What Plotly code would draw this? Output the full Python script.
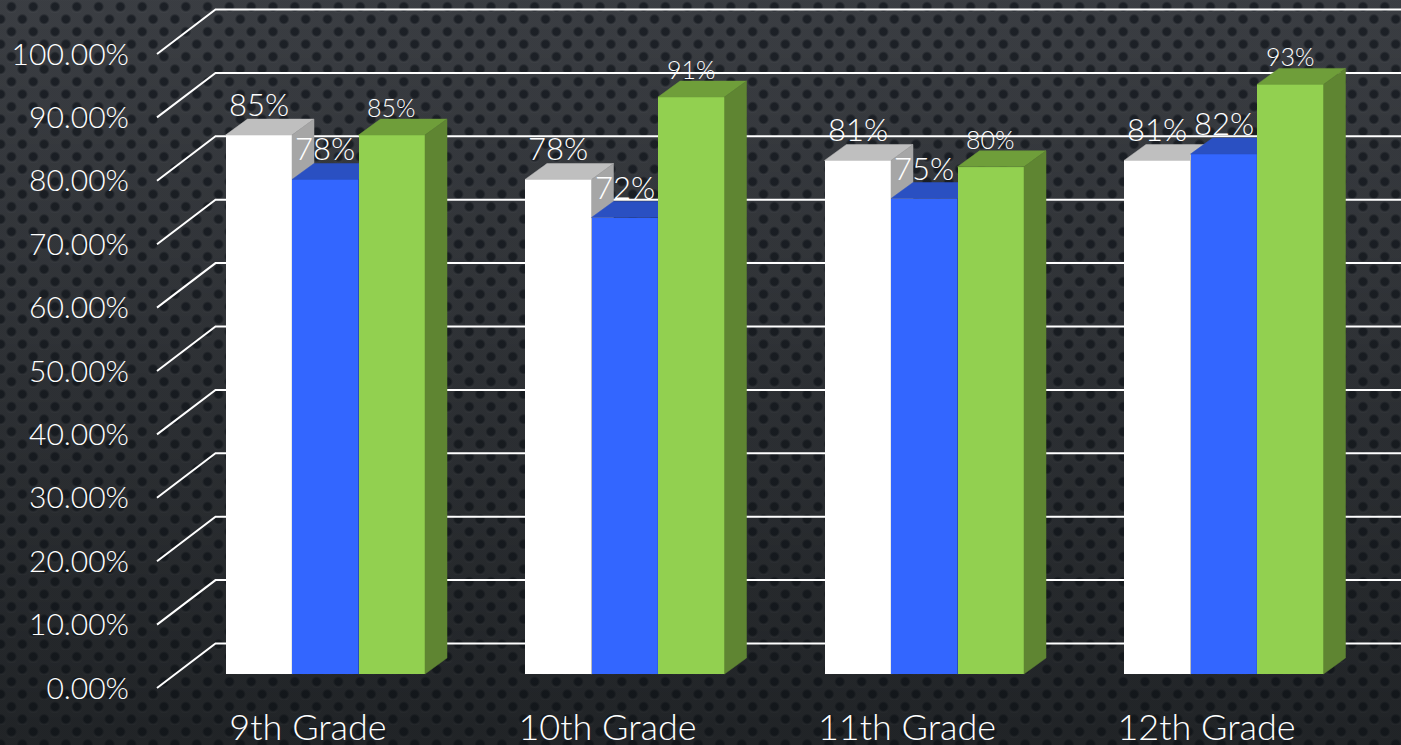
import base64, struct, zlib
import numpy as np
import plotly.graph_objects as go

grades = ["9th Grade", "10th Grade", "11th Grade", "12th Grade"]
series_a = [85, 78, 81, 81]
series_b = [78, 72, 75, 82]
series_c = [85, 91, 80, 93]
axis_ticks = [0, 10, 20, 30, 40, 50, 60, 70, 80, 90, 100]
axis_labels = ["0.00%", "10.00%", "20.00%", "30.00%", "40.00%", "50.00%",
               "60.00%", "70.00%", "80.00%", "90.00%", "100.00%"]

W, H = 1401, 745
FONT = "Lato, 'Open Sans', sans-serif"

# ---- scale of the picture ----
PX_X = 299.5           # px per category
PX_Y = 6.34            # px per percentage point
CX0 = 325.25           # px of the first category centre
BAR = 66.5 / PX_X
DX, DY = 22 / PX_X, 16 / PX_Y          # bar depth
WALL_DX, WALL_DY = 58.5 / PX_X, 44.5 / PX_Y  # wall depth
x_range = [-CX0 / PX_X, (W - CX0) / PX_X]


def y_range(zero_px):
    return [-(H - zero_px) / PX_Y, zero_px / PX_Y]


def xu(px):
    return (px - CX0) / PX_X


# ---- background texture ----
def png_uri():
    yy, xx = np.mgrid[0:H, 0:W].astype(float)
    t = yy / H
    base = np.stack([58 - 26 * t, 61 - 26 * t, 66 - 28 * t], axis=-1)
    px, py = 21.8, 25.0
    row = np.floor(yy / (py / 2))
    xs = xx + (row % 2) * px / 2
    dx = (xs % px) - px / 2
    dy = (yy % (py / 2)) - py / 4
    d = np.hypot(dx, dy)
    dot = np.clip((5.6 - d) / 2.2, 0, 1)[..., None]
    hi = np.clip((5.5 - np.hypot(dx, dy - 3.0)) / 3, 0, 1)[..., None] * (1 - dot)
    dotc = np.stack([28 - 10 * t, 32 - 10 * t, 38 - 12 * t], axis=-1)
    img = base * (1 - dot) + dotc * dot + 5 * hi
    weave = (((xx.astype(int) + yy.astype(int)) % 2) * 2.0)[..., None]
    img = np.clip(img + weave, 0, 255).astype(np.uint8)
    raw = b"".join(b"\x00" + img[i].tobytes() for i in range(H))

    def chunk(tag, data):
        return (struct.pack(">I", len(data)) + tag + data +
                struct.pack(">I", zlib.crc32(tag + data) & 0xffffffff))
    png = (b"\x89PNG\r\n\x1a\n" +
           chunk(b"IHDR", struct.pack(">IIBBBBB", W, H, 8, 2, 0, 0, 0)) +
           chunk(b"IDAT", zlib.compress(raw, 9)) + chunk(b"IEND", b""))
    return "data:image/png;base64," + base64.b64encode(png).decode()


fig = go.Figure()

# ---- wall grid on the base axes ----
gx, gy = [], []
for k in axis_ticks:
    gx += [xu(157), xu(157) + WALL_DX, x_range[1], None]
    gy += [k, k + WALL_DY, k + WALL_DY, None]
fig.add_trace(go.Scatter(x=gx, y=gy, mode="lines", hoverinfo="skip",
                         line=dict(color="#ffffff", width=2), showlegend=False))

# ---- bars: one overlaid subplot per series, so nearer bars hide farther faces ----
styles = [
    (series_a, -1, "#ffffff", "#bfbfbf", "#a6a6a6", 31),
    (series_b, 0, "#3366ff", "#2a50c2", "#2546a8", 31),
    (series_c, 1, "#92d050", "#6f9e3a", "#5f8532", 25),
]
annotations = []
for s, (vals, off, front, top, side, size) in enumerate(styles):
    ax = str(s + 2)
    xs = [i + off * BAR for i in range(len(grades))]
    fig.add_trace(go.Bar(x=xs, y=vals, width=BAR, marker=dict(color=front, line=dict(width=0)),
                         xaxis="x" + ax, yaxis="y" + ax, showlegend=False, name=f"Series {s + 1}"))
    tx, ty, sx, sy = [], [], [], []
    for x, v in zip(xs, vals):
        l, r = x - BAR / 2, x + BAR / 2
        tx += [l, r, r + DX, l + DX, l, None]
        ty += [v, v, v + DY, v + DY, v, None]
        sx += [r, r + DX, r + DX, r, r, None]
        sy += [v, v + DY, DY, 0, v, None]
        annotations.append(dict(x=x, y=v, xref="x" + ax, yref="y" + ax, text=f"{v}%",
                                showarrow=False, yshift=31 if size > 28 else 28,
                                font=dict(family=FONT, size=size, color="#ffffff", weight=300)))
    fig.add_trace(go.Scatter(x=tx, y=ty, mode="lines", fill="toself", fillcolor=top, hoverinfo="skip",
                             line=dict(width=0.5, color=top), xaxis="x" + ax, yaxis="y" + ax, showlegend=False))
    fig.add_trace(go.Scatter(x=sx, y=sy, mode="lines", fill="toself", fillcolor=side, hoverinfo="skip",
                             line=dict(width=0.5, color=side), xaxis="x" + ax, yaxis="y" + ax, showlegend=False))

hidden = dict(visible=False, showgrid=False, zeroline=False, fixedrange=True, automargin=False)
layout = dict(
    width=W, height=H, margin=dict(l=0, r=0, t=0, b=0, pad=0, autoexpand=False), autosize=False,
    paper_bgcolor="#26282b", plot_bgcolor="rgba(0,0,0,0)",
    showlegend=False, bargap=0, annotations=annotations,
    images=[dict(source=png_uri(), xref="paper", yref="paper", x=0, y=1, sizex=1, sizey=1,
                 sizing="stretch", xanchor="left", yanchor="top", layer="below")],
    xaxis=dict(range=x_range, domain=[0, 1], anchor="free", position=42 / H, automargin=False,
               tickmode="array", tickvals=[i + xu(308) for i in range(len(grades))], ticktext=grades,
               ticks="", showgrid=False, zeroline=False, showline=False,
               tickfont=dict(family=FONT, size=36, color="#ffffff", weight=300)),
    yaxis=dict(range=y_range(688), domain=[0, 1], anchor="free", position=129 / W, automargin=False,
               tickmode="array", tickvals=axis_ticks, ticktext=axis_labels,
               ticks="", showgrid=False, zeroline=False, showline=False,
               tickfont=dict(family=FONT, size=30, color="#ffffff", weight=300)),
)
for s in range(3):
    ax = str(s + 2)
    layout["xaxis" + ax] = dict(range=x_range, domain=[0, 1], overlaying="x", anchor="y" + ax, **hidden)
    layout["yaxis" + ax] = dict(range=y_range(674), domain=[0, 1], overlaying="y", anchor="x" + ax, **hidden)
fig.update_layout(**layout)

fig.write_html("out.html", config=dict(displayModeBar=False),
               post_script="document.body.style.margin='0';document.body.style.overflow='hidden';")
